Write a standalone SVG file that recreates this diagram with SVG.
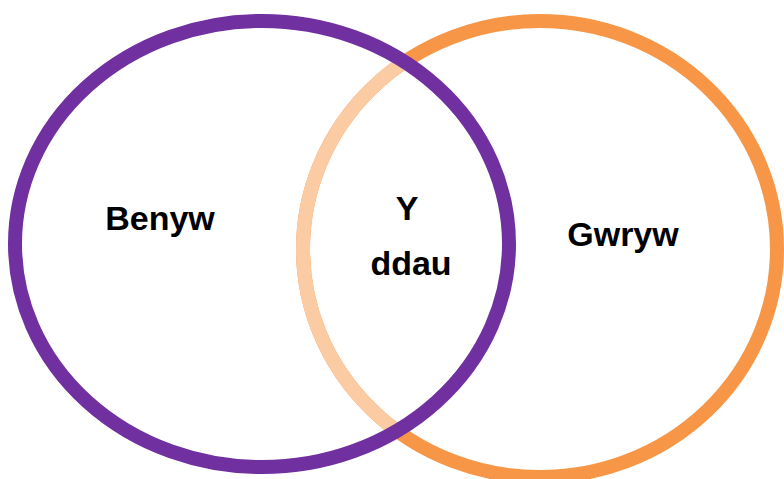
<svg xmlns="http://www.w3.org/2000/svg" width="784" height="479" viewBox="0 0 784 479">
<style>
.lbl{font-family:"Liberation Sans",Arial,sans-serif;font-weight:bold;font-size:34px;fill:#000;text-anchor:middle}
.ring{fill:none;stroke-width:14}
</style>
<defs>
<clipPath id="inPurple"><ellipse cx="262" cy="244" rx="247" ry="223"/></clipPath>
</defs>
<rect width="784" height="479" fill="#fff"/>
<g id="gwryw">
<ellipse class="ring" cx="540" cy="249" rx="237" ry="228" stroke="#F79646"/>
<ellipse class="ring" cx="540" cy="249" rx="237" ry="228" stroke="#FBCBA3" clip-path="url(#inPurple)"/>
<text class="lbl" x="623" y="246">Gwryw</text>
</g>
<g id="benyw">
<ellipse class="ring" cx="262" cy="244" rx="247" ry="223" stroke="#7030A0"/>
<text class="lbl" x="160" y="230">Benyw</text>
</g>
<g id="ydau">
<text class="lbl" x="407" y="220">Y</text>
<text class="lbl" x="411" y="275">ddau</text>
</g>
<g id="connectors"/>
</svg>
